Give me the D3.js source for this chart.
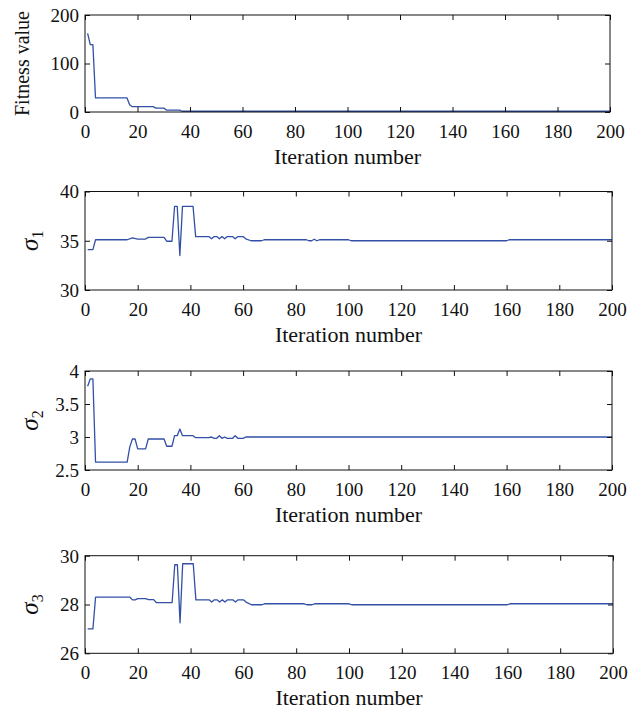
<!DOCTYPE html>
<html>
<head>
<meta charset="utf-8">
<script src="https://cdn.jsdelivr.net/npm/d3@7"></script>
<style>
	body { margin: 0; background: #fff; }
	svg text { font-family: "Liberation Serif", "Times New Roman", serif; fill: #111; }
</style>
</head>
<body>
<div id="chart-area"></div>
<script>
const WIDTH = 644
const HEIGHT = 713

// x axis shared by all panels
const iterDomain = [0, 200]
const iterTicks = [0, 20, 40, 60, 80, 100, 120, 140, 160, 180, 200]

// series values: [iteration, value]
const fitness = [[1, 162], [2, 139], [3, 139], [4, 29], [16, 29], [17, 15], [18, 11], [26, 11],
	[27, 8], [30, 8], [31, 4], [36, 4], [37, 1.5], [200, 1.5]]

const sigma1 = [[1, 34.1], [3, 34.1], [4, 35.1], [16, 35.1], [18, 35.3], [20, 35.17], [23, 35.17],
	[24, 35.34], [30, 35.34], [31, 34.95], [33, 34.95], [34, 38.5], [35, 38.5], [36, 33.5],
	[37, 38.5], [41, 38.5], [42, 35.42], [47, 35.42], [48, 35.2], [49, 35.42], [50, 35.42],
	[51, 35.2], [52, 35.42], [53, 35.2], [54, 35.42], [56, 35.42], [57, 35.2], [58, 35.42],
	[60, 35.42], [61, 35.2], [63, 35.0], [67, 35.0], [68, 35.1], [84, 35.1], [85, 35.0],
	[86, 35.0], [87, 35.15], [88, 35.0], [89, 35.1], [100, 35.1], [101, 35.0], [160, 35.0],
	[161, 35.1], [200, 35.1]]

const sigma2 = [[1, 3.77], [2, 3.88], [3, 3.88], [4, 2.62], [16, 2.62], [17, 2.85], [18, 2.97],
	[19, 2.97], [20, 2.82], [23, 2.82], [24, 2.97], [30, 2.97], [31, 2.86], [33, 2.86],
	[34, 3.02], [35, 3.02], [36, 3.12], [37, 3.02], [41, 3.02], [42, 2.99], [47, 2.99],
	[48, 3.0], [49, 2.98], [50, 2.98], [51, 3.02], [52, 2.98], [53, 3.0], [54, 2.98],
	[56, 2.98], [57, 3.02], [58, 2.98], [60, 2.98], [61, 3.0], [200, 3.0]]

const sigma3 = [[1, 27.0], [3, 27.0], [4, 28.3], [17, 28.3], [18, 28.19], [19, 28.19], [20, 28.24],
	[23, 28.24], [24, 28.2], [26, 28.2], [27, 28.08], [33, 28.08], [34, 29.63], [35, 29.63],
	[36, 27.25], [37, 29.67], [41, 29.67], [42, 28.19], [47, 28.19], [48, 28.1], [49, 28.19],
	[50, 28.19], [51, 28.1], [52, 28.19], [53, 28.1], [54, 28.19], [56, 28.19], [57, 28.1],
	[58, 28.19], [60, 28.19], [61, 28.1], [63, 27.99], [67, 27.99], [68, 28.03], [83, 28.03],
	[84, 27.99], [86, 27.99], [87, 28.03], [100, 28.03], [101, 27.99], [160, 27.99],
	[161, 28.03], [200, 28.03]]

// y tick labels per panel
const fitTicks = [0, 100, 200]
const sigma1Ticks = [30, 35, 40]
const sigma2Ticks = [2.5, 3, 3.5, 4]
const sigma3Ticks = [26, 28, 30]

const panels = [
	{ data: fitness, domain: [0, 200], ticks: fitTicks, fmt: d3.format("d"), label: "Fitness value", top: 15, bottom: 112, right: 610 },
	{ data: sigma1, domain: [30, 40], ticks: sigma1Ticks, fmt: d3.format("d"), sub: "1", top: 191.5, bottom: 290, right: 612 },
	{ data: sigma2, domain: [2.5, 4], ticks: sigma2Ticks, fmt: d => d3.format("~g")(d), sub: "2", top: 371, bottom: 470, right: 612 },
	{ data: sigma3, domain: [26, 30], ticks: sigma3Ticks, fmt: d3.format("d"), sub: "3", top: 555.7, bottom: 653.3, right: 613 }
]

const LEFT = 85
const TICK = 5
const FONT = "'Liberation Serif', 'Times New Roman', serif"

const svg = d3.select("#chart-area").append("svg")
	.attr("width", WIDTH)
	.attr("height", HEIGHT)

panels.forEach(p => {
	const h = p.bottom - p.top
	const w = p.right - LEFT
	const x = d3.scaleLinear().domain(iterDomain).range([0, w])
	const y = d3.scaleLinear().domain(p.domain).range([h, 0])

	const g = svg.append("g")
		.attr("transform", `translate(${LEFT}, ${p.top})`)

	// line
	const line = d3.line()
		.x(d => x(d[0]))
		.y(d => y(d[1]))

	g.append("path")
		.attr("fill", "none")
		.attr("stroke", "#3150a6")
		.attr("stroke-width", 1.3)
		.attr("stroke-linejoin", "round")
		.attr("d", line(p.data))

	// inward ticks on all four sides
	const xBottom = g.append("g")
		.attr("transform", `translate(0, ${h})`)
		.call(d3.axisBottom(x).tickValues(iterTicks).tickSizeInner(-TICK).tickSizeOuter(0).tickPadding(0))
	xBottom.selectAll("text")
		.attr("dy", null)
		.attr("y", 26)
		.style("font-family", FONT)
		.style("font-size", "19px")

	g.append("g")
		.call(d3.axisTop(x).tickValues(iterTicks).tickSizeInner(-TICK).tickSizeOuter(0).tickFormat(""))

	const yLeft = g.append("g")
		.call(d3.axisLeft(y).tickValues(p.ticks).tickSizeInner(-TICK).tickSizeOuter(0).tickFormat(p.fmt).tickPadding(0))
	yLeft.selectAll("text")
		.attr("x", -6)
		.attr("dy", "0.34em")
		.style("font-family", FONT)
		.style("font-size", "19px")

	g.append("g")
		.attr("transform", `translate(${w}, 0)`)
		.call(d3.axisRight(y).tickValues(p.ticks).tickSizeInner(-TICK).tickSizeOuter(0).tickFormat(""))

	g.selectAll(".domain").remove()
	g.selectAll(".tick line").attr("stroke", "#111")

	// frame
	g.append("rect")
		.attr("width", w)
		.attr("height", h)
		.attr("fill", "none")
		.attr("stroke", "#111")
		.attr("stroke-width", 1)

	// x axis label
	g.append("text")
		.attr("x", w / 2)
		.attr("y", h + 52)
		.attr("text-anchor", "middle")
		.style("font-family", FONT)
		.style("font-size", "22px")
		.text("Iteration number")

	// y axis label
	if (p.label) {
		g.append("text")
			.attr("transform", `translate(${22 - LEFT + 7}, ${h / 2}) rotate(-90)`)
			.attr("text-anchor", "middle")
			.style("font-family", FONT)
			.style("font-size", "20px")
			.text(p.label)
	} else {
		const t = g.append("text")
			.attr("transform", `translate(${32 - LEFT + 6}, ${h / 2}) rotate(-90)`)
			.attr("text-anchor", "middle")
			.style("font-family", FONT)
		t.append("tspan")
			.attr("font-style", "italic")
			.style("font-size", "25px")
			.text("σ")
		t.append("tspan")
			.style("font-size", "16px")
			.attr("dy", "5")
			.text(p.sub)
	}
})
</script>
</body>
</html>
